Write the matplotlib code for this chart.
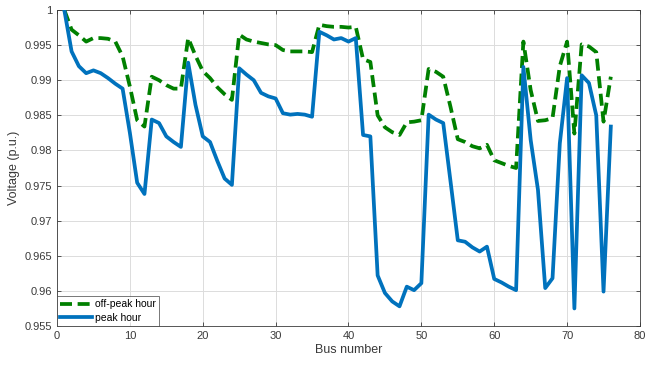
import matplotlib
matplotlib.use("Agg")
import matplotlib.pyplot as plt
import numpy as np

# Bus voltage profile, 76-bus feeder
buses = np.arange(1, 77)

off_peak = [
    1.0000, 0.9972, 0.9964, 0.9955, 0.9960, 0.9960, 0.9959, 0.9955, 0.9934, 0.9891,
    0.9843, 0.9834, 0.9905, 0.9900, 0.9893, 0.9888, 0.9888, 0.9960, 0.9935, 0.9913,
    0.9903, 0.9890, 0.9880, 0.9872, 0.9965, 0.9958, 0.9955, 0.9953, 0.9951, 0.9950,
    0.9943, 0.9941, 0.9941, 0.9941, 0.9940, 0.9979, 0.9977, 0.9976, 0.9976, 0.9975,
    0.9976, 0.9930, 0.9926, 0.9850, 0.9833, 0.9826, 0.9822, 0.9840, 0.9841, 0.9843,
    0.9916, 0.9912, 0.9905, 0.9862, 0.9816, 0.9812, 0.9806, 0.9803, 0.9808, 0.9786,
    0.9782, 0.9778, 0.9775, 0.9955, 0.9886, 0.9842, 0.9843, 0.9846, 0.9920, 0.9955,
    0.9824, 0.9951, 0.9948, 0.9940, 0.9841, 0.9905,
]

peak = [
    1.0000, 0.9941, 0.9920, 0.9910, 0.9914, 0.9910, 0.9903, 0.9895, 0.9888, 0.9825,
    0.9754, 0.9738, 0.9844, 0.9839, 0.9820, 0.9812, 0.9805, 0.9925, 0.9865, 0.9820,
    0.9812, 0.9785, 0.9760, 0.9751, 0.9917, 0.9908, 0.9900, 0.9882, 0.9877, 0.9874,
    0.9853, 0.9851, 0.9852, 0.9851, 0.9848, 0.9969, 0.9964, 0.9958, 0.9960, 0.9955,
    0.9960, 0.9822, 0.9820, 0.9622, 0.9597, 0.9585, 0.9578, 0.9606, 0.9601, 0.9611,
    0.9851, 0.9844, 0.9839, 0.9756, 0.9672, 0.9670, 0.9662, 0.9656, 0.9663, 0.9617,
    0.9612, 0.9606, 0.9601, 0.9919, 0.9815, 0.9744, 0.9604, 0.9618, 0.9810, 0.9903,
    0.9575, 0.9907, 0.9896, 0.9850, 0.9599, 0.9834,
]

x_ticks = [0, 10, 20, 30, 40, 50, 60, 70, 80]
y_ticks = [0.955, 0.96, 0.965, 0.97, 0.975, 0.98, 0.985, 0.99, 0.995, 1.0]
y_tick_labels = ["0.955", "0.96", "0.965", "0.97", "0.975", "0.98", "0.985", "0.99", "0.995", "1"]

axis_grey = "#3a3a3a"

plt.rcParams["font.family"] = ["Liberation Sans", "DejaVu Sans"]

fig = plt.figure(figsize=(6.45, 3.66), dpi=100)
ax = fig.add_axes([0.0884, 0.1093, 0.9038, 0.8634])

ax.plot(buses, off_peak, color="#008000", linewidth=2.7, linestyle=(0, (3.2, 1.5)),
        label="off-peak hour", zorder=3)
ax.plot(buses, peak, color="#0072BD", linewidth=2.7, label="peak hour", zorder=3)

ax.set_xlim(0, 80)
ax.set_ylim(0.955, 1.0)
ax.set_xticks(x_ticks)
ax.set_yticks(y_ticks)
ax.set_yticklabels(y_tick_labels)

ax.grid(True, color="#dcdcdc", linewidth=0.7)
ax.set_axisbelow(True)
ax.tick_params(direction="in", top=True, right=True, length=3, width=0.6,
               labelsize=8, colors=axis_grey, labelcolor=axis_grey)
for spine in ax.spines.values():
    spine.set_color(axis_grey)
    spine.set_linewidth(0.6)

ax.set_xlabel("Bus number", fontsize=9, color=axis_grey, labelpad=2)
ax.set_ylabel("Voltage (p.u.)", fontsize=9, color=axis_grey, labelpad=3)

leg = ax.legend(loc="lower left", fontsize=7.5, frameon=True, fancybox=False,
                borderaxespad=0, handlelength=3.1, handletextpad=0.2,
                borderpad=0.3, labelspacing=0.35)
leg.get_frame().set_edgecolor(axis_grey)
leg.get_frame().set_linewidth(0.6)

fig.savefig("out.png", dpi=100)
